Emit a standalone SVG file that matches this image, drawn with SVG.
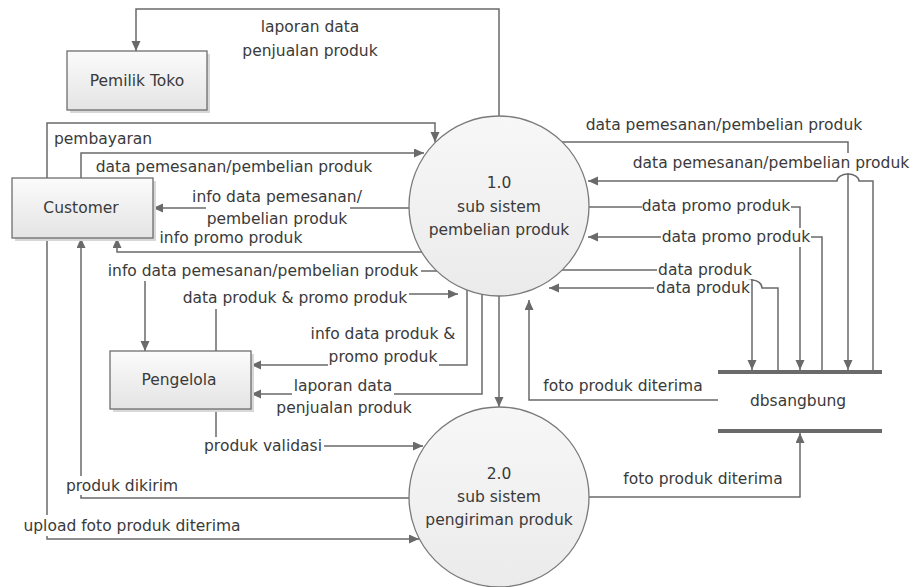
<svg xmlns="http://www.w3.org/2000/svg" width="914" height="587" viewBox="0 0 914 587">
<style>
text{font-family:"DejaVu Sans","Liberation Sans",sans-serif;font-size:15.5px;fill:#3a3a3a;text-anchor:middle}
.ent{fill:url(#gBox);stroke:#6e6e6e;stroke-width:1.3}
.shadow{fill:#d8d8d8}
.proc{fill:url(#gCirc);stroke:#7a7a7a;stroke-width:1.3}
.c{fill:none;stroke:#6a6a6a;stroke-width:1.5}
.a{marker-end:url(#arr)}
.bg{fill:#ffffff}
.bar{fill:#6a6a6a}
</style>
<defs>
<linearGradient id="gBox" x1="0" y1="0" x2="0" y2="1"><stop offset="0" stop-color="#fbfbfb"/><stop offset="1" stop-color="#e4e4e4"/></linearGradient>
<linearGradient id="gCirc" x1="0" y1="0" x2="0" y2="1"><stop offset="0" stop-color="#f7f7f7"/><stop offset="1" stop-color="#ebebeb"/></linearGradient>
<marker id="arr" markerUnits="userSpaceOnUse" markerWidth="11" markerHeight="10" refX="10" refY="4.5" orient="auto"><path d="M0,0 L10,4.5 L0,9 z" fill="#6a6a6a"/></marker>
</defs>

<g id="connectors">
<path class="c a" d="M499,116 V9 H136 V51"/>
<path class="c a" d="M47,178 V123 H435 V142"/>
<path class="c a" d="M81,178 V153 H424"/>
<path class="c a" d="M409,208 H153"/>
<path class="c a" d="M422,252 H117 V238"/>
<path class="c a" d="M437,271 H145 V351"/>
<path class="c a" d="M216,351 V294 H458"/>
<path class="c a" d="M467,290 V365 H251"/>
<path class="c a" d="M482,294 V394 H251"/>
<path class="c a" d="M499,296 V407"/>
<path class="c a" d="M216,409 V446 H423"/>
<path class="c a" d="M409,498 H81 V238"/>
<path class="c a" d="M47,238 V539 H419"/>
<path class="c a" d="M562,142 H848 V370"/>
<path class="c a" d="M873,370 V181 H859 A11,7 0 0 0 837,181 H588"/>
<path class="c a" d="M589,207 H800 V370"/>
<path class="c a" d="M822,370 V237 H588"/>
<path class="c a" d="M560,270 H752 V370"/>
<path class="c a" d="M778,370 V288 H762 A10,8 0 0 0 742,288 H549"/>
<path class="c a" d="M718,400 H529 V300"/>
<path class="c a" d="M589,497 H800 V433"/>
</g>

<g id="labels">
<text x="310" y="32">laporan data</text>
<text x="310" y="56">penjualan produk</text>
<text x="103" y="144">pembayaran</text>
<text x="234" y="172">data pemesanan/pembelian produk</text>
<rect class="bg" x="206" y="187" width="144" height="41"/>
<text x="277" y="202">info data pemesanan/</text>
<text x="277" y="224">pembelian produk</text>
<text x="231" y="243">info promo produk</text>
<rect class="bg" x="105" y="262" width="316" height="19"/>
<text x="263" y="276">info data pemesanan/pembelian produk</text>
<rect class="bg" x="181" y="287" width="228" height="22"/>
<text x="295" y="303">data produk &amp; promo produk</text>
<text x="383" y="339">info data produk &amp;</text>
<rect class="bg" x="328" y="348" width="111" height="20"/>
<text x="383" y="362">promo produk</text>
<rect class="bg" x="292" y="377" width="102" height="19"/>
<text x="343" y="391">laporan data</text>
<text x="344" y="413">penjualan produk</text>
<rect class="bg" x="203" y="437" width="121" height="19"/>
<text x="263" y="451">produk validasi</text>
<rect class="bg" x="66" y="476" width="112" height="19"/>
<text x="122" y="491">produk dikirim</text>
<rect class="bg" x="23" y="515" width="218" height="21"/>
<text x="132" y="531">upload foto produk diterima</text>
<text x="724" y="130">data pemesanan/pembelian produk</text>
<rect class="bg" x="631" y="153" width="281" height="20"/>
<text x="771" y="168">data pemesanan/pembelian produk</text>
<rect class="bg" x="642" y="197" width="149" height="19"/>
<text x="716" y="211">data promo produk</text>
<rect class="bg" x="661" y="228" width="150" height="19"/>
<text x="736" y="242">data promo produk</text>
<rect class="bg" x="657" y="261" width="96" height="18"/>
<text x="705" y="275">data produk</text>
<rect class="bg" x="654" y="280" width="97" height="17"/>
<text x="703" y="293">data produk</text>
<text x="623" y="391">foto produk diterima</text>
<text x="703" y="484">foto produk diterima</text>
</g>

<g id="pemilik-toko">
<rect class="shadow" x="70" y="54" width="140" height="59"/>
<rect class="ent" x="67" y="51" width="140" height="59"/>
<text x="137" y="86">Pemilik Toko</text>
</g>
<g id="customer">
<rect class="shadow" x="15" y="181" width="141" height="60"/>
<rect class="ent" x="12" y="178" width="141" height="60"/>
<text x="81" y="213">Customer</text>
</g>
<g id="pengelola">
<rect class="shadow" x="113" y="354" width="141" height="58"/>
<rect class="ent" x="110" y="351" width="141" height="58"/>
<text x="179" y="385">Pengelola</text>
</g>
<g id="proses-1">
<circle class="proc" cx="499" cy="206" r="90"/>
<text x="499" y="188">1.0</text>
<text x="499" y="212">sub sistem</text>
<text x="499" y="235">pembelian produk</text>
</g>
<g id="proses-2">
<circle class="proc" cx="499" cy="497" r="90"/>
<text x="499" y="479">2.0</text>
<text x="499" y="502">sub sistem</text>
<text x="499" y="525">pengiriman produk</text>
</g>
<g id="dbsangbung">
<rect class="bar" x="718" y="370" width="164" height="4"/>
<rect class="bar" x="718" y="429" width="164" height="4"/>
<text x="798" y="406">dbsangbung</text>
</g>
</svg>
